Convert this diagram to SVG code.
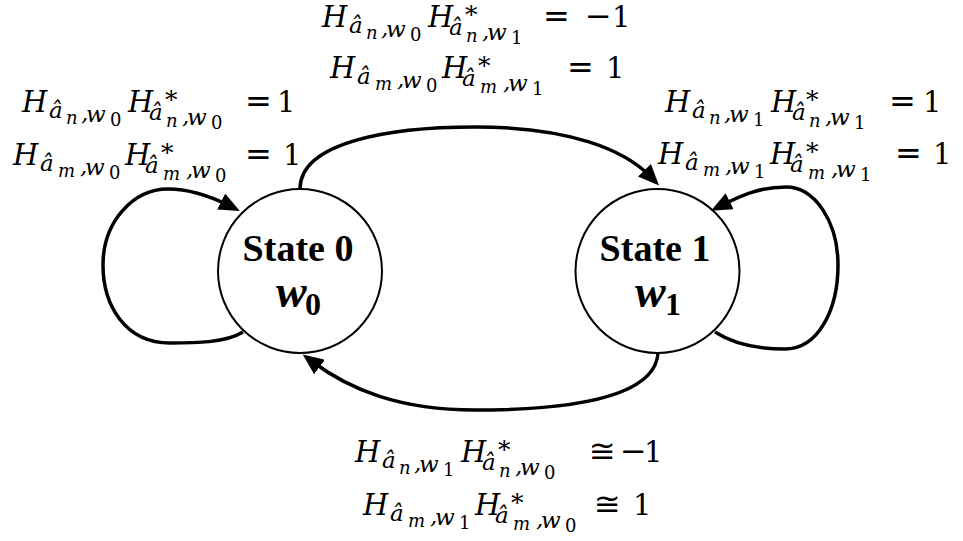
<svg xmlns="http://www.w3.org/2000/svg" width="963" height="541" viewBox="0 0 963 541">
<style>
.m text{font-family:"DejaVu Serif",serif;font-style:italic;fill:#000}
.H{font-size:29px}
.s{font-size:23px}
.ss{font-size:18px}
.u{font-style:normal}
.st{font-size:25px;font-style:normal}
.op{font-family:"DejaVu Sans",sans-serif;font-style:normal;font-size:32px}
.v{font-style:normal;font-size:29px}
</style>
<defs>
<marker id="ah" markerUnits="userSpaceOnUse" markerWidth="22" markerHeight="18" viewBox="0 0 22 18" refX="10" refY="9" orient="auto">
<path d="M0,0 L21,9 L0,18 z" fill="#000"/>
</marker>
</defs>
<g id="connectors" fill="none" stroke="#000" stroke-width="3.5">
<path marker-end="url(#ah)" d="M300,189 C300,142 390,127 475,127 C570,127 625,150 651.4,177.5"/>
<path marker-end="url(#ah)" d="M658,353 C655,400 560,410 475,410 C400,410 350,390 311.5,361"/>
<path marker-end="url(#ah)" d="M243,332 C225,343 195,343 170,343 C125,343 103,305 103,265 C103,222 133,189 168,189 C192,189 212,197 230,206"/>
<path marker-end="url(#ah)" d="M715,332 C735,345 760,349 785,349 C818,349 838,310 838,265 C838,222 815,187 786,187 C760,187 742,195 720.8,205.8"/>
</g>
<g id="state0" font-family="Liberation Serif, serif" font-weight="bold">
<circle cx="300" cy="271" r="82" fill="#fff" stroke="#000" stroke-width="2"/>
<text x="298" y="261" font-size="38" text-anchor="middle">State 0</text>
<text x="276" y="307"><tspan font-style="italic" font-size="46">w</tspan><tspan x="305" y="315" font-size="32">0</tspan></text>
</g>
<g id="state1" font-family="Liberation Serif, serif" font-weight="bold">
<circle cx="657.5" cy="271" r="82" fill="#fff" stroke="#000" stroke-width="2"/>
<text x="655" y="261" font-size="38" text-anchor="middle">State 1</text>
<text x="635" y="307"><tspan font-style="italic" font-size="46">w</tspan><tspan x="665" y="315" font-size="32">1</tspan></text>
</g>
<g id="label-top" class="m">
<text><tspan class="H" x="322" y="27">H</tspan><tspan class="s" x="349" y="33">â</tspan><tspan class="ss" x="366" y="39">n</tspan><tspan class="s" x="381" y="36">,</tspan><tspan class="s" x="386" y="37">w</tspan><tspan class="ss u" x="410" y="41">0</tspan><tspan class="H" x="428" y="27">H</tspan><tspan class="st" x="465" y="23">*</tspan><tspan class="s" x="449" y="35">â</tspan><tspan class="ss" x="466" y="42">n</tspan><tspan class="s" x="482" y="39">,</tspan><tspan class="s" x="487" y="40">w</tspan><tspan class="ss u" x="511" y="44">1</tspan><tspan class="op" x="543" y="27">=</tspan><tspan class="op" x="585" y="27">−</tspan><tspan class="v" x="612" y="27">1</tspan></text>
<text><tspan class="H" x="330" y="78">H</tspan><tspan class="s" x="357" y="84">â</tspan><tspan class="ss" x="375" y="90">m</tspan><tspan class="s" x="397" y="87">,</tspan><tspan class="s" x="402" y="88">w</tspan><tspan class="ss u" x="426" y="92">0</tspan><tspan class="H" x="442" y="78">H</tspan><tspan class="st" x="478" y="74">*</tspan><tspan class="s" x="462" y="86">â</tspan><tspan class="ss" x="480" y="93">m</tspan><tspan class="s" x="503" y="90">,</tspan><tspan class="s" x="508" y="91">w</tspan><tspan class="ss u" x="532" y="95">1</tspan><tspan class="op" x="567" y="78">=</tspan><tspan class="v" x="606" y="78">1</tspan></text>
</g>
<g id="label-left" class="m">
<text><tspan class="H" x="22" y="112">H</tspan><tspan class="s" x="49" y="118">â</tspan><tspan class="ss" x="66" y="124">n</tspan><tspan class="s" x="81" y="121">,</tspan><tspan class="s" x="86" y="122">w</tspan><tspan class="ss u" x="110" y="126">0</tspan><tspan class="H" x="128" y="112">H</tspan><tspan class="st" x="165" y="108">*</tspan><tspan class="s" x="149" y="120">â</tspan><tspan class="ss" x="166" y="127">n</tspan><tspan class="s" x="182" y="124">,</tspan><tspan class="s" x="187" y="125">w</tspan><tspan class="ss u" x="211" y="129">0</tspan><tspan class="op" x="245" y="112">=</tspan><tspan class="v" x="277" y="112">1</tspan></text>
<text><tspan class="H" x="13" y="165">H</tspan><tspan class="s" x="40" y="171">â</tspan><tspan class="ss" x="58" y="177">m</tspan><tspan class="s" x="80" y="174">,</tspan><tspan class="s" x="85" y="175">w</tspan><tspan class="ss u" x="109" y="179">0</tspan><tspan class="H" x="125" y="165">H</tspan><tspan class="st" x="161" y="161">*</tspan><tspan class="s" x="145" y="173">â</tspan><tspan class="ss" x="163" y="180">m</tspan><tspan class="s" x="186" y="177">,</tspan><tspan class="s" x="191" y="178">w</tspan><tspan class="ss u" x="215" y="182">0</tspan><tspan class="op" x="245" y="165">=</tspan><tspan class="v" x="283" y="165">1</tspan></text>
</g>
<g id="label-right" class="m">
<text><tspan class="H" x="665" y="112">H</tspan><tspan class="s" x="692" y="118">â</tspan><tspan class="ss" x="709" y="124">n</tspan><tspan class="s" x="724" y="121">,</tspan><tspan class="s" x="729" y="122">w</tspan><tspan class="ss u" x="753" y="126">1</tspan><tspan class="H" x="771" y="112">H</tspan><tspan class="st" x="806" y="108">*</tspan><tspan class="s" x="792" y="120">â</tspan><tspan class="ss" x="809" y="127">n</tspan><tspan class="s" x="825" y="124">,</tspan><tspan class="s" x="830" y="125">w</tspan><tspan class="ss u" x="854" y="129">1</tspan><tspan class="op" x="889" y="112">=</tspan><tspan class="v" x="923" y="112">1</tspan></text>
<text><tspan class="H" x="658" y="164">H</tspan><tspan class="s" x="685" y="170">â</tspan><tspan class="ss" x="703" y="176">m</tspan><tspan class="s" x="725" y="173">,</tspan><tspan class="s" x="730" y="174">w</tspan><tspan class="ss u" x="754" y="178">1</tspan><tspan class="H" x="770" y="164">H</tspan><tspan class="st" x="806" y="160">*</tspan><tspan class="s" x="790" y="172">â</tspan><tspan class="ss" x="808" y="179">m</tspan><tspan class="s" x="831" y="176">,</tspan><tspan class="s" x="836" y="177">w</tspan><tspan class="ss u" x="860" y="181">1</tspan><tspan class="op" x="895" y="164">=</tspan><tspan class="v" x="933" y="164">1</tspan></text>
</g>
<g id="label-bottom" class="m">
<text><tspan class="H" x="355" y="462">H</tspan><tspan class="s" x="382" y="468">â</tspan><tspan class="ss" x="399" y="474">n</tspan><tspan class="s" x="414" y="471">,</tspan><tspan class="s" x="419" y="472">w</tspan><tspan class="ss u" x="443" y="476">1</tspan><tspan class="H" x="461" y="462">H</tspan><tspan class="st" x="498" y="458">*</tspan><tspan class="s" x="482" y="470">â</tspan><tspan class="ss" x="499" y="477">n</tspan><tspan class="s" x="515" y="474">,</tspan><tspan class="s" x="520" y="475">w</tspan><tspan class="ss u" x="544" y="479">0</tspan><tspan class="op" x="589" y="462">≅</tspan><tspan class="op" x="620" y="462">−</tspan><tspan class="v" x="644" y="462">1</tspan></text>
<text><tspan class="H" x="363" y="515">H</tspan><tspan class="s" x="390" y="521">â</tspan><tspan class="ss" x="408" y="527">m</tspan><tspan class="s" x="430" y="524">,</tspan><tspan class="s" x="435" y="525">w</tspan><tspan class="ss u" x="459" y="529">1</tspan><tspan class="H" x="475" y="515">H</tspan><tspan class="st" x="511" y="511">*</tspan><tspan class="s" x="495" y="523">â</tspan><tspan class="ss" x="513" y="530">m</tspan><tspan class="s" x="536" y="527">,</tspan><tspan class="s" x="541" y="528">w</tspan><tspan class="ss u" x="565" y="532">0</tspan><tspan class="op" x="594" y="515">≅</tspan><tspan class="v" x="633" y="515">1</tspan></text>
</g>
</svg>
